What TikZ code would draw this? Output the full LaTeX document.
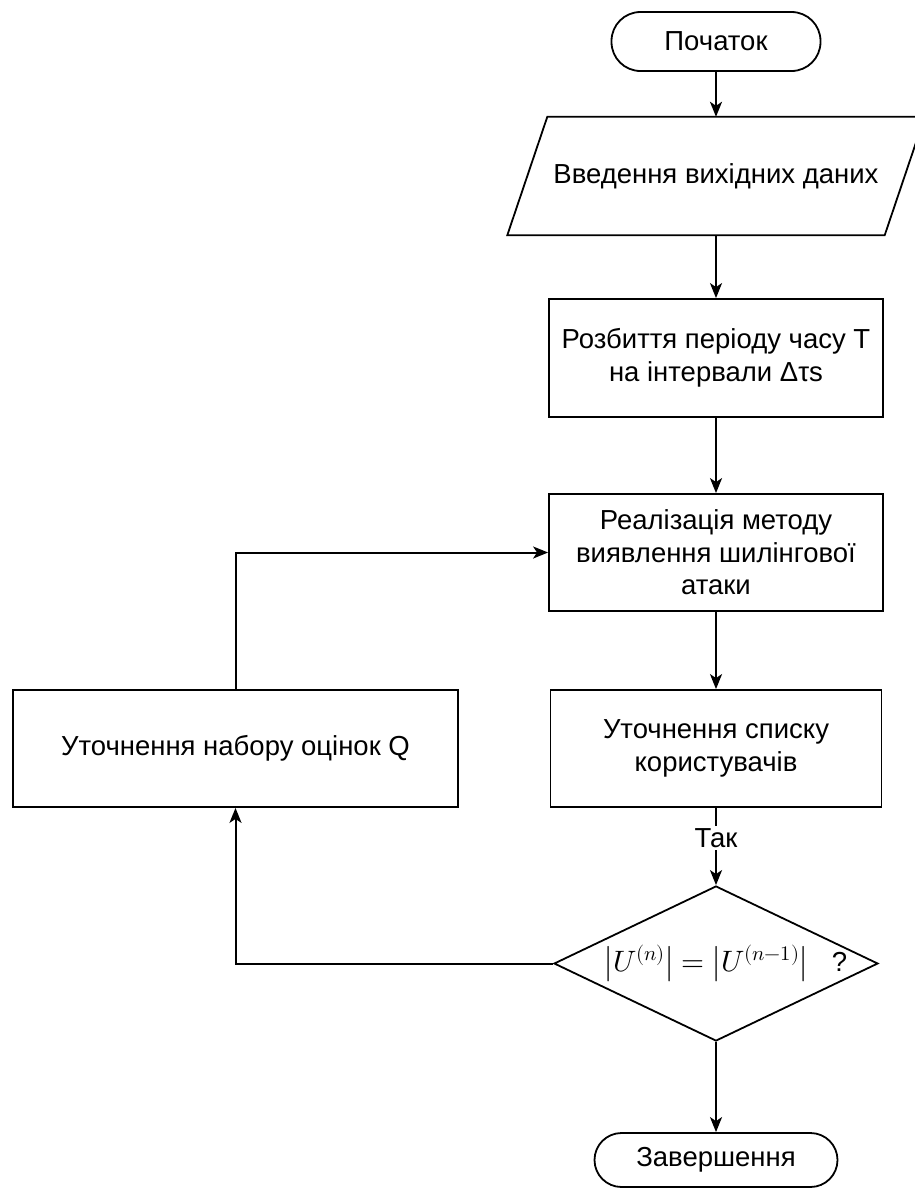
\documentclass[tikz,border=0pt]{standalone}
\usepackage{unicode-math}
\setmainfont{Liberation Sans}
\setmathfont{Latin Modern Math}
\usetikzlibrary{shapes.geometric,arrows.meta}
\begin{document}
\begin{tikzpicture}[x=1pt,y=-1pt,
  every node/.style={font=\fontsize{27.5}{32.5}\selectfont},
  lw/.style={line width=1.8pt},
  box/.style={draw, line width=1.8pt, minimum width=334pt, minimum height=118pt, inner sep=0pt, align=center},
  term/.style={draw, line width=1.8pt, rounded corners=27pt, inner sep=0pt},
  decision/.style={draw, line width=1.8pt, diamond, minimum width=324pt, minimum height=155pt, inner sep=0pt},
  arr/.style={line width=2pt, -{Stealth[length=15pt,width=12pt,inset=4pt]}}]
\useasboundingbox (0,0) rectangle (914,1189);

\node[term, minimum width=209pt, minimum height=59pt, rounded corners=29pt] (start) at (716,41.5) {Початок};

\node[minimum width=377pt, minimum height=118pt, inner sep=0pt] (in) at (716,176) {Введення вихідних даних};
\draw[lw] ([xshift=-20pt]in.south west) -- ([xshift=20pt]in.north west) -- ([xshift=20pt]in.north east) -- ([xshift=-20pt]in.south east) -- cycle;

\node[box] (r1) at (716,358) {Розбиття періоду часу Т\\на інтервали Δτs};
\node[box, minimum height=117pt] (r2) at (716,552.5) {Реалізація методу\\виявлення шилінгової\\атаки};
\node[box, minimum width=331pt, minimum height=117pt] (r3) at (716,748.5) {Уточнення списку\\користувачів};
\node[box, minimum width=445pt, minimum height=117pt] (lb) at (235.5,748.5) {Уточнення набору оцінок Q};

\node[decision] (dia) at (716,963.5) {\makebox[0pt][c]{\hspace*{20pt}{\fontsize{29.5}{34}\selectfont$\left|U^{(n)}\right| = \left|U^{(n-1)}\right|$}\hspace{24pt}?}};

\node[term, minimum width=243pt, minimum height=54pt] (end) at (716,1160) {Завершення};

\draw[arr] (start) -- (in);
\draw[arr] (in.south) -- (r1);
\draw[arr] (r1) -- (r2);
\draw[arr] (r2) -- (r3);
\draw[arr] (r3) -- node[pos=0.39, fill=white, inner sep=2pt] {Так} (dia);
\draw[arr] (dia.west) -- (dia.west -| lb.south) -- (lb.south);
\draw[arr] (lb.north) -- (lb.north |- r2.west) -- (r2.west);
\draw[arr] (dia) -- (end);
\end{tikzpicture}
\end{document}
